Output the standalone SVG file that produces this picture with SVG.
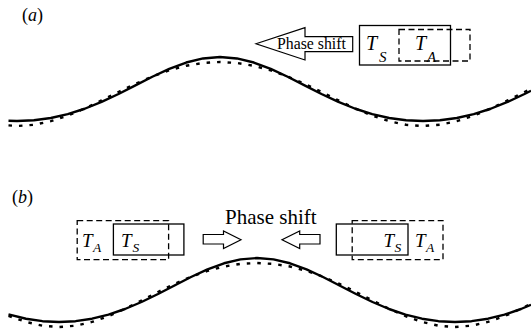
<svg xmlns="http://www.w3.org/2000/svg" width="531" height="331" viewBox="0 0 531 331">
<style>
text{font-family:"Liberation Serif","Times New Roman",serif;fill:#000}
.it{font-style:italic}
.box{fill:none;stroke:#000;stroke-width:1.3}
.dbox{fill:none;stroke:#000;stroke-width:1.3;stroke-dasharray:6 3.5}
.arrow{fill:#fff;stroke:#000;stroke-width:1.2;stroke-linejoin:miter}
.wave{fill:none;stroke:#000;stroke-width:2.4;stroke-linejoin:round}
.dwave{fill:none;stroke:#000;stroke-width:2.4;stroke-dasharray:3.5 7}
</style>
<rect width="531" height="331" fill="#fff"/>

<g id="panel-a">
<text x="22" y="21" font-size="18">(<tspan class="it">a</tspan>)</text>
<g id="wave-a">
<path class="dwave" d="M8.5,125.4 L17,126 L33.91,124.78 L50.83,121.21 L67.75,115.63 L84.67,108.5 L101.58,100.42 L118.5,92 L135.42,83.85 L152.33,76.5 L169.25,70.37 L186.17,65.79 L203.08,62.96 L220,62 L236.92,62.96 L253.83,65.79 L270.75,70.37 L287.67,76.5 L304.58,83.85 L321.5,92 L338.42,100.42 L355.33,108.5 L372.25,115.63 L389.17,121.21 L406.08,124.78 L423,126 L439.92,124.78 L456.83,121.21 L473.75,115.63 L490.67,108.5 L507.58,100.42 L524.5,92 L531,88.9"/>
<path class="wave" d="M8.5,120.8 L17,121 L33.91,120.25 L50.83,117.96 L67.75,114.13 L84.67,108.75 L101.58,101.95 L118.5,94 L135.42,85.38 L152.33,76.75 L169.25,68.87 L186.17,62.54 L203.08,58.43 L220,57 L236.92,58.43 L253.83,62.54 L270.75,68.87 L287.67,76.75 L304.58,85.38 L321.5,94 L338.42,101.95 L355.33,108.75 L372.25,114.13 L389.17,117.96 L406.08,120.25 L423,121 L439.92,120.25 L456.83,117.96 L473.75,114.13 L490.67,108.75 L507.58,101.95 L524.5,94 L531,90.7"/>
</g>
<g id="arrow-a">
<polygon class="arrow" points="256,43.7 305,27.7 305,36.7 352.7,36.7 352.7,51.7 305,51.7 305,60"/>
<text x="277" y="48.5" font-size="15.8">Phase shift</text>
</g>
<g id="boxes-a">
<rect class="box" x="359.5" y="25.5" width="91" height="39.5"/>
<rect class="dbox" x="399" y="29.5" width="71" height="31.5"/>
<text class="it" x="366" y="49.5" font-size="20">T</text>
<text class="it" x="379" y="61.5" font-size="15">S</text>
<text class="it" x="415" y="49.5" font-size="20">T</text>
<text class="it" x="427" y="61.5" font-size="15">A</text>
</g>
</g>

<g id="panel-b">
<text x="12" y="203" font-size="18">(<tspan class="it">b</tspan>)</text>
<g id="wave-b">
<path class="dwave" d="M8.5,315.9 L26,321.96 L42.5,325.71 L59,327 L75.5,325.71 L92,321.96 L108.5,316.13 L125,308.75 L141.5,300.48 L158,292 L174.5,283.92 L191,276.75 L207.5,270.87 L224,266.54 L240.5,263.89 L257,263 L273.5,263.89 L290,266.54 L306.5,270.87 L323,276.75 L339.5,283.92 L356,292 L372.5,300.48 L389,308.75 L405.5,316.13 L422,321.96 L438.5,325.71 L455,327 L471.5,325.71 L488,321.96 L504.5,316.13 L521,308.75 L531,303.8"/>
<path class="wave" d="M8.5,314.4 L26,318.71 L42.5,321.18 L59,322 L75.5,321.18 L92,318.71 L108.5,314.63 L125,309 L141.5,302.01 L158,294 L174.5,285.45 L191,277 L207.5,269.37 L224,263.29 L240.5,259.36 L257,258 L273.5,259.36 L290,263.29 L306.5,269.37 L323,277 L339.5,285.45 L356,294 L372.5,302.01 L389,309 L405.5,314.63 L422,318.71 L438.5,321.18 L455,322 L471.5,321.18 L488,318.71 L504.5,314.63 L521,309 L531,304.8"/>
</g>
<g id="label-b">
<text x="225" y="224.3" font-size="21">Phase shift</text>
</g>
<g id="arrow-b-right">
<polygon class="arrow" points="203.2,234.5 223.5,234.5 223.5,231 241,239.8 223.5,248.6 223.5,244 203.2,244"/>
</g>
<g id="arrow-b-left">
<polygon class="arrow" points="320,234.5 299.7,234.5 299.7,231 282,239.8 299.7,248.6 299.7,244 320,244"/>
</g>
<g id="boxes-b-left">
<rect class="dbox" x="77.2" y="220.6" width="91.4" height="39"/>
<rect class="box" x="113.4" y="224" width="70.5" height="31"/>
<text class="it" x="82" y="247" font-size="19">T</text>
<text class="it" x="93" y="252" font-size="13.5">A</text>
<text class="it" x="121" y="247" font-size="19">T</text>
<text class="it" x="132.5" y="252" font-size="13.5">S</text>
</g>
<g id="boxes-b-right">
<rect class="box" x="336.3" y="224" width="71.7" height="31"/>
<rect class="dbox" x="352.2" y="220.6" width="90.8" height="39"/>
<text class="it" x="383.5" y="247" font-size="19">T</text>
<text class="it" x="394.5" y="252" font-size="13.5">S</text>
<text class="it" x="415" y="247" font-size="19">T</text>
<text class="it" x="426" y="252" font-size="13.5">A</text>
</g>
</g>
</svg>
